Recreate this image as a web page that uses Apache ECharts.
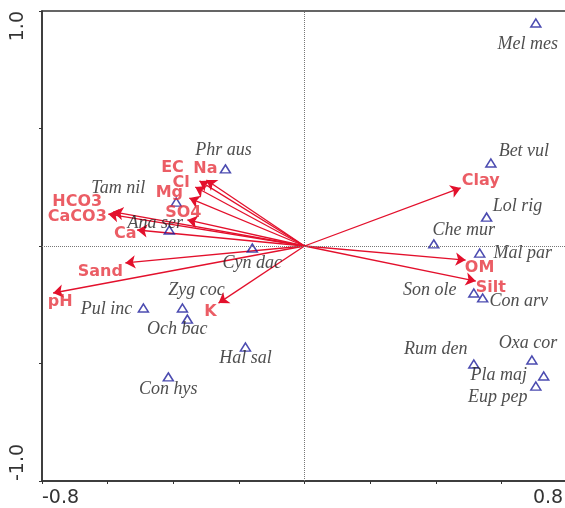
<!DOCTYPE html>
<html>
<head>
<meta charset="utf-8">
<script src="https://cdn.jsdelivr.net/npm/echarts@6/dist/echarts.min.js"></script>
<style>
  html, body { margin: 0; padding: 0; background: #fff; }
  #chart { width: 565px; height: 508px; }
</style>
</head>
<body>
<div id="chart"></div>
<script>
// species scores (axis 1, axis 2)
const speciesNames = ['Mel mes', 'Bet vul', 'Lol rig', 'Che mur', 'Mal par', 'Son ole', 'Con arv',
  'Rum den', 'Oxa cor', 'Pla maj', 'Eup pep', 'Phr aus', 'Tam nil', 'Ana ser', 'Cyn dac',
  'Pul inc', 'Zyg coc', 'Och bac', 'Hal sal', 'Con hys']
const speciesX = [0.705, 0.568, 0.555, 0.394, 0.534, 0.516, 0.543,
  0.516, 0.693, 0.729, 0.705, -0.241, -0.391, -0.412, -0.159,
  -0.491, -0.372, -0.357, -0.180, -0.415]
const speciesY = [0.949, 0.353, 0.123, 0.009, -0.030, -0.200, -0.221,
  -0.502, -0.485, -0.553, -0.596, 0.328, 0.187, 0.068, -0.009,
  -0.264, -0.264, -0.311, -0.430, -0.557]

// environmental variable arrow tips
const envNames = ['EC', 'Na', 'Cl', 'Mg', 'HCO3', 'CaCO3', 'SO4', 'Ca', 'Sand', 'pH', 'K', 'Clay', 'OM', 'Silt']
const envX = [-0.320, -0.299, -0.333, -0.351, -0.583, -0.598, -0.357, -0.510, -0.546, -0.766, -0.262, 0.476, 0.491, 0.522]
const envY = [0.277, 0.281, 0.251, 0.204, 0.145, 0.136, 0.111, 0.068, -0.072, -0.200, -0.243, 0.247, -0.060, -0.149]

const xTicks = [-0.8, 0.8]
const yTicks = [-1.0, 1.0]

// label placement (pixel offsets from the point)
const speciesLabelOffset = {
  'Mel mes': [-8, 21], 'Bet vul': [33, -12], 'Lol rig': [31, -11], 'Che mur': [30, -14],
  'Mal par': [43, 0], 'Son ole': [-44, -3], 'Con arv': [36, 3], 'Rum den': [-38, -15],
  'Oxa cor': [-4, -17], 'Pla maj': [-45, -1], 'Eup pep': [-38, 11], 'Phr aus': [-2, -19],
  'Tam nil': [-58, -14], 'Ana ser': [-14, -7], 'Cyn dac': [0, 15], 'Pul inc': [-37, 1],
  'Zyg coc': [14, -18], 'Och bac': [-10, 10], 'Hal sal': [0, 11], 'Con hys': [0, 12]
}
const envLabelOffset = {
  'EC': [-27, -13], 'Na': [-1, -11], 'Cl': [-14, -4], 'Mg': [-20, -5], 'HCO3': [-36, -10],
  'CaCO3': [-31, 3], 'SO4': [-4, -7], 'Ca': [-12, 4], 'Sand': [-25, 9], 'pH': [7, 9],
  'K': [-8, 9], 'Clay': [20, -7], 'OM': [14, 8], 'Silt': [15, 7]
}

const isTick = (v, list) => list.some(t => Math.abs(v - t) < 1e-6)

const chart = echarts.init(document.getElementById('chart'))

const option = {
  animation: false,
  grid: {
    left: 42,
    right: -2,
    top: 11,
    bottom: 27,
    outerBoundsMode: 'none',
    show: true,
    borderColor: '#333',
    borderWidth: 1.5
  },
  xAxis: {
    type: 'value',
    min: -0.8,
    max: 0.8,
    interval: 0.2,
    axisLine: { onZero: false, lineStyle: { color: '#333', width: 1.5 } },
    axisTick: { length: 3, lineStyle: { color: '#333' } },
    splitLine: { show: false },
    axisLabel: {
      margin: 8,
      fontSize: 19,
      fontFamily: 'DejaVu Sans',
      color: '#333',
      alignMinLabel: 'left',
      alignMaxLabel: 'right',
      // thin space keeps the right-end label inside the page
      formatter: v => isTick(v, xTicks) ? v.toFixed(1) + (v > 0 ? '\u2009' : '') : ''
    }
  },
  yAxis: {
    type: 'value',
    min: -1,
    max: 1,
    interval: 0.5,
    axisLine: { onZero: false, lineStyle: { color: '#333', width: 1.5 } },
    axisTick: { length: 3, lineStyle: { color: '#333' } },
    splitLine: { show: false },
    axisLabel: {
      rotate: 90,
      margin: 14,
      fontSize: 19,
      fontFamily: 'DejaVu Sans',
      color: '#333',
      alignMinLabel: 'left',
      alignMaxLabel: 'right',
      formatter: v => isTick(v, yTicks) ? v.toFixed(1) : ''
    }
  },
  series: [
    {
      type: 'lines',
      coordinateSystem: 'cartesian2d',
      silent: true,
      symbol: ['none', 'arrow'],
      symbolSize: 10,
      lineStyle: { color: '#e3102c', width: 1.3, opacity: 1 },
      data: envNames.map((n, i) => ({ coords: [[0, 0], [envX[i], envY[i]]] }))
    },
    {
      type: 'scatter',
      symbolSize: 0,
      silent: true,
      label: {
        show: true,
        position: 'inside',
        formatter: p => p.name,
        color: '#e6343f',
        fontFamily: 'DejaVu Sans',
        fontWeight: 'bold',
        fontSize: 16
      },
      data: envNames.map((n, i) => ({
        name: n,
        value: [envX[i], envY[i]],
        label: { offset: envLabelOffset[n] }
      }))
    },
    {
      type: 'scatter',
      symbol: 'triangle',
      symbolSize: [10, 8],
      itemStyle: { color: 'rgba(0,0,0,0)', borderColor: '#1e1e9c', borderWidth: 1.5 },
      label: {
        show: true,
        position: 'inside',
        formatter: p => p.name,
        color: '#222',
        fontFamily: 'Liberation Serif',
        fontStyle: 'italic',
        fontSize: 18
      },
      markLine: {
        silent: true,
        symbol: 'none',
        label: { show: false },
        lineStyle: { type: 'dotted', color: '#777', width: 1 },
        data: [{ xAxis: 0 }, { yAxis: 0 }]
      },
      data: speciesNames.map((n, i) => ({
        name: n,
        value: [speciesX[i], speciesY[i]],
        label: { offset: speciesLabelOffset[n] }
      }))
    }
  ]
}

chart.setOption(option)
</script>
</body>
</html>
